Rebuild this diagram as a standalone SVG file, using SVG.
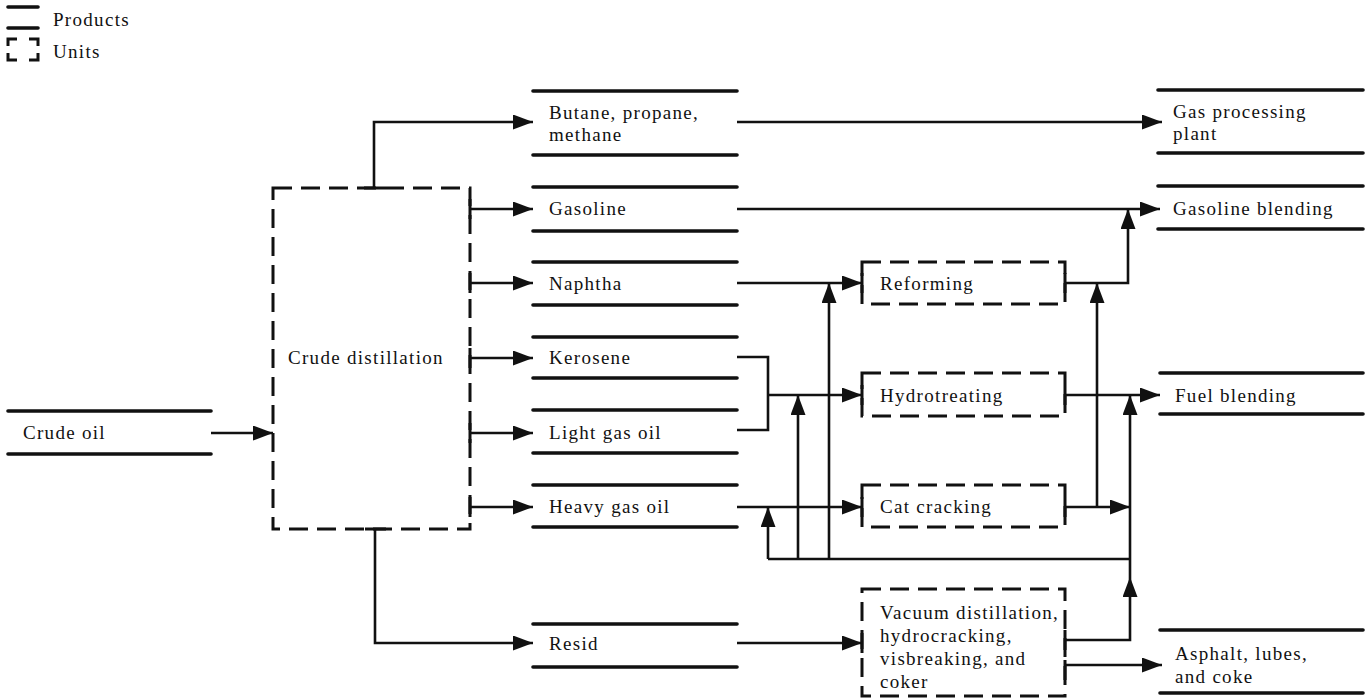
<svg xmlns="http://www.w3.org/2000/svg" width="1367" height="698" viewBox="0 0 1367 698">
<style>
  text { font-family: "Liberation Serif", "DejaVu Serif", serif; font-size: 19px; fill: #111; letter-spacing: 1.3px; }
  .prod { stroke: #111; stroke-width: 3.6; stroke-linecap: round; fill: none; }
  .unit { stroke: #111; stroke-width: 3; stroke-dasharray: 19 9; fill: none; }
  .tick { stroke: #111; stroke-width: 3; fill: none; }
  .conn { stroke: #111; stroke-width: 2.6; fill: none; }
  .arr { stroke: #111; stroke-width: 2.6; fill: none; marker-end: url(#ah); }
</style>
<defs>
  <marker id="ah" markerUnits="userSpaceOnUse" markerWidth="21" markerHeight="16" refX="20" refY="7.5" orient="auto">
    <path d="M0,0 L20,7.5 L0,15 z" fill="#111"/>
  </marker>
</defs>
<rect width="1367" height="698" fill="#fff"/>

<g id="legend">
  <line class="prod" x1="8" y1="7" x2="38" y2="7"/>
  <line class="prod" x1="8" y1="28" x2="38" y2="28"/>
  <text x="53" y="26">Products</text>
  <path class="tick" d="M8,46 V39 H17 M29,39 H38 V46 M8,53 V60 H17 M29,60 H38 V53"/>
  <text x="53" y="58">Units</text>
</g>

<g id="crude_oil">
  <line class="prod" x1="8" y1="411" x2="211" y2="411"/>
  <line class="prod" x1="8" y1="454" x2="211" y2="454"/>
  <text x="23" y="439">Crude oil</text>
</g>

<g id="crude_distillation">
  <rect class="unit" x="273" y="188" width="197" height="341"/>
  <text x="288" y="364">Crude distillation</text>
</g>

<g id="butane">
  <line class="prod" x1="533" y1="91" x2="737" y2="91"/>
  <line class="prod" x1="533" y1="155" x2="737" y2="155"/>
  <text x="549" y="119">Butane, propane,</text>
  <text x="549" y="141">methane</text>
</g>
<g id="gasoline">
  <line class="prod" x1="533" y1="187" x2="737" y2="187"/>
  <line class="prod" x1="533" y1="231" x2="737" y2="231"/>
  <text x="549" y="215">Gasoline</text>
</g>
<g id="naphtha">
  <line class="prod" x1="533" y1="262" x2="737" y2="262"/>
  <line class="prod" x1="533" y1="305" x2="737" y2="305"/>
  <text x="549" y="290">Naphtha</text>
</g>
<g id="kerosene">
  <line class="prod" x1="533" y1="337" x2="737" y2="337"/>
  <line class="prod" x1="533" y1="378" x2="737" y2="378"/>
  <text x="549" y="364">Kerosene</text>
</g>
<g id="light_gas_oil">
  <line class="prod" x1="533" y1="410" x2="737" y2="410"/>
  <line class="prod" x1="533" y1="453" x2="737" y2="453"/>
  <text x="549" y="439">Light gas oil</text>
</g>
<g id="heavy_gas_oil">
  <line class="prod" x1="533" y1="485" x2="737" y2="485"/>
  <line class="prod" x1="533" y1="527" x2="737" y2="527"/>
  <text x="549" y="513">Heavy gas oil</text>
</g>
<g id="resid">
  <line class="prod" x1="533" y1="624" x2="737" y2="624"/>
  <line class="prod" x1="533" y1="667" x2="737" y2="667"/>
  <text x="549" y="650">Resid</text>
</g>

<g id="reforming">
  <rect class="unit" x="862" y="262" width="203" height="42"/>
  <text x="880" y="290">Reforming</text>
</g>
<g id="hydrotreating">
  <rect class="unit" x="862" y="373" width="203" height="43"/>
  <text x="880" y="402">Hydrotreating</text>
</g>
<g id="cat_cracking">
  <rect class="unit" x="862" y="485" width="203" height="42"/>
  <text x="880" y="513">Cat cracking</text>
</g>
<g id="vacuum">
  <rect class="unit" x="862" y="589" width="203" height="107"/>
  <text x="880" y="619">Vacuum distillation,</text>
  <text x="880" y="642">hydrocracking,</text>
  <text x="880" y="665">visbreaking, and</text>
  <text x="880" y="688">coker</text>
</g>

<g id="gas_processing">
  <line class="prod" x1="1158" y1="90" x2="1363" y2="90"/>
  <line class="prod" x1="1158" y1="153" x2="1363" y2="153"/>
  <text x="1173" y="118">Gas processing</text>
  <text x="1173" y="140">plant</text>
</g>
<g id="gasoline_blending">
  <line class="prod" x1="1158" y1="186" x2="1363" y2="186"/>
  <line class="prod" x1="1158" y1="229" x2="1363" y2="229"/>
  <text x="1173" y="215">Gasoline blending</text>
</g>
<g id="fuel_blending">
  <line class="prod" x1="1160" y1="373" x2="1363" y2="373"/>
  <line class="prod" x1="1160" y1="414" x2="1363" y2="414"/>
  <text x="1175" y="402">Fuel blending</text>
</g>
<g id="asphalt">
  <line class="prod" x1="1160" y1="630" x2="1363" y2="630"/>
  <line class="prod" x1="1160" y1="693" x2="1363" y2="693"/>
  <text x="1175" y="660">Asphalt, lubes,</text>
  <text x="1175" y="683">and coke</text>
</g>

<g id="connectors">
  <path class="tick" d="M364,188 H385 M365,529 H386 M470,199 V219 M470,273 V293 M470,348 V368 M470,423 V443 M470,497 V517 M862,273 V293 M862,385 V405 M862,497 V517 M862,633 V653 M1065,273 V293 M1065,385 V405 M1065,497 V517 M1065,630 V650 M1065,660 V680"/>
  <path class="arr" d="M211,433 H273"/>
  <path class="arr" d="M374,188 V122 H533"/>
  <path class="arr" d="M470,209 H533"/>
  <path class="arr" d="M470,283 H533"/>
  <path class="arr" d="M470,358 H533"/>
  <path class="arr" d="M470,433 H533"/>
  <path class="arr" d="M470,507 H533"/>
  <path class="arr" d="M375,529 V643 H533"/>
  <path class="arr" d="M737,122 H1162"/>
  <path class="arr" d="M737,209 H1160"/>
  <path class="arr" d="M737,283 H862"/>
  <path class="conn" d="M737,357 H768 V430 H737"/>
  <path class="arr" d="M768,395 H862"/>
  <path class="arr" d="M737,507 H862"/>
  <path class="arr" d="M737,643 H862"/>
  <path class="conn" d="M1130,559 H768"/>
  <path class="arr" d="M768,559 V507"/>
  <path class="arr" d="M798,559 V395"/>
  <path class="arr" d="M829,559 V283"/>
  <path class="arr" d="M1065,283 H1128 V209"/>
  <path class="arr" d="M1065,507 H1130"/>
  <path class="arr" d="M1097,507 V283"/>
  <path class="arr" d="M1065,395 H1160"/>
  <path class="arr" d="M1065,640 H1130 V577"/>
  <path class="arr" d="M1130,577 V395"/>
  <path class="arr" d="M1065,665 H1162"/>
</g>
</svg>
